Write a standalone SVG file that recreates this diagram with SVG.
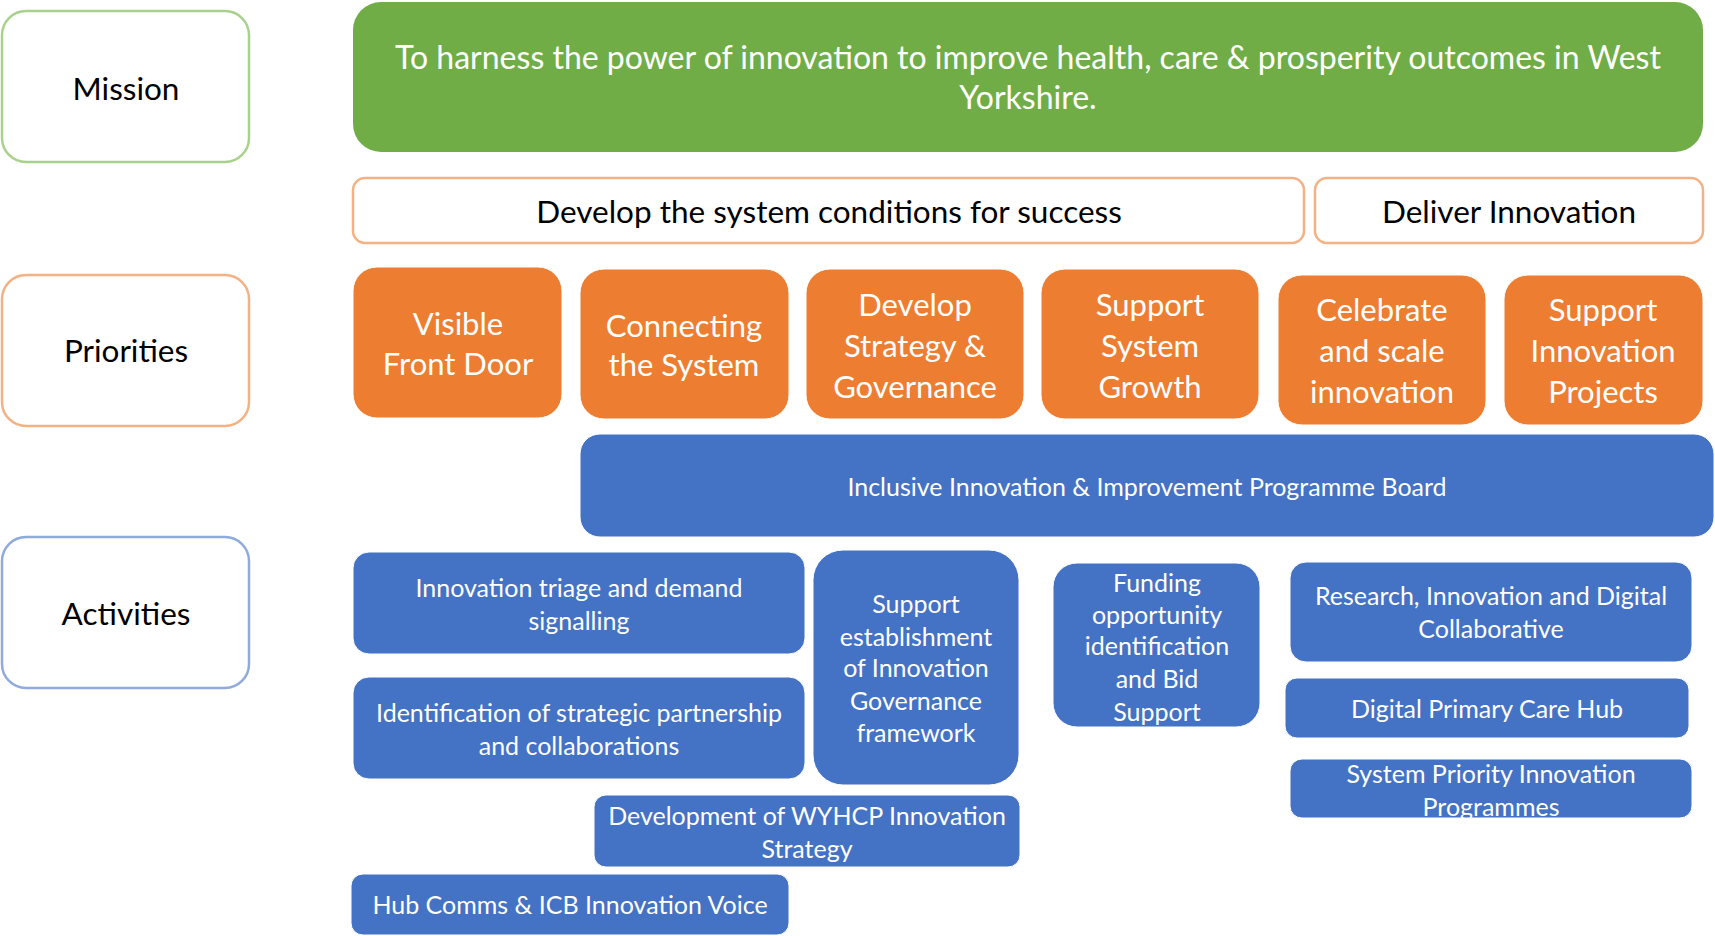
<svg xmlns="http://www.w3.org/2000/svg" width="1715" height="936" viewBox="0 0 1715 936">
<style>
text{font-family:Lato,"Open Sans","Liberation Sans",sans-serif;text-anchor:middle}
.lab rect{fill:#fff;stroke-width:2.5}
.lab text{fill:#000;font-size:31.5px}
.mis rect{fill:#70AD47}
.mis text{fill:#fff;font-size:32px}
.ph rect{fill:#fff;stroke:#F4B183;stroke-width:2.5}
.ph text{fill:#000;font-size:31.5px}
.pr rect{fill:#ED7D31;stroke:#fff;stroke-width:1}
.pr text{fill:#fff;font-size:31px}
.ac rect{fill:#4472C4;stroke:#fff;stroke-width:1}
.ac text{fill:#fff;font-size:25px}
</style>
<rect width="1715" height="936" fill="#fff"/>
<g id="label-mission" class="lab"><rect x="2" y="11" width="247" height="151" rx="24" stroke="#A9D18E"/><text x="126" y="100">Mission</text></g>
<g id="label-priorities" class="lab"><rect x="2" y="275" width="247" height="151" rx="24" stroke="#F4B183"/><text x="126" y="362">Priorities</text></g>
<g id="label-activities" class="lab"><rect x="2" y="537" width="247" height="151" rx="24" stroke="#8FAADC"/><text x="126" y="625">Activities</text></g>

<g id="mission" class="mis"><rect x="353" y="2" width="1350" height="150" rx="28"/>
<text x="1028" y="69">To harness the power of innovation to improve health, care &amp; prosperity outcomes in West</text>
<text x="1028" y="109">Yorkshire.</text></g>

<g id="phase-develop" class="ph"><rect x="353" y="178" width="951" height="65" rx="12"/><text x="829" y="223">Develop the system conditions for success</text></g>
<g id="phase-deliver" class="ph"><rect x="1315" y="178" width="388" height="65" rx="12"/><text x="1509" y="223">Deliver Innovation</text></g>

<g id="p1" class="pr"><rect x="353" y="267" width="209" height="151" rx="24"/><text x="458" y="335">Visible</text><text x="458" y="375">Front Door</text></g>
<g id="p2" class="pr"><rect x="580" y="269" width="209" height="150" rx="24"/><text x="684" y="337">Connecting</text><text x="684" y="376">the System</text></g>
<g id="p3" class="pr"><rect x="806" y="269" width="218" height="150" rx="24"/><text x="915" y="316">Develop</text><text x="915" y="357">Strategy &amp;</text><text x="915" y="398">Governance</text></g>
<g id="p4" class="pr"><rect x="1041" y="269" width="218" height="150" rx="24"/><text x="1150" y="316">Support</text><text x="1150" y="357">System</text><text x="1150" y="398">Growth</text></g>
<g id="p5" class="pr"><rect x="1278" y="275" width="208" height="150" rx="24"/><text x="1382" y="321">Celebrate</text><text x="1382" y="362">and scale</text><text x="1382" y="403">innovation</text></g>
<g id="p6" class="pr"><rect x="1504" y="275" width="199" height="150" rx="24"/><text x="1603" y="321">Support</text><text x="1603" y="362">Innovation</text><text x="1603" y="403">Projects</text></g>

<g id="board" class="ac"><rect x="580" y="434" width="1134" height="103" rx="20"/><text x="1147" y="496">Inclusive Innovation &amp; Improvement Programme Board</text></g>

<g id="a-triage" class="ac"><rect x="353" y="552" width="452" height="102" rx="16"/><text x="579" y="597">Innovation triage and demand</text><text x="579" y="630">signalling</text></g>
<g id="a-partnership" class="ac"><rect x="353" y="677" width="452" height="102" rx="16"/><text x="579" y="722">Identification of strategic partnership</text><text x="579" y="755">and collaborations</text></g>
<g id="a-governance" class="ac"><rect x="813" y="550" width="206" height="235" rx="30"/><text x="916" y="613">Support</text><text x="916" y="646">establishment</text><text x="916" y="677">of Innovation</text><text x="916" y="710">Governance</text><text x="916" y="742">framework</text></g>
<g id="a-funding" class="ac"><rect x="1053" y="563" width="207" height="164" rx="24"/><text x="1157" y="592">Funding</text><text x="1157" y="624">opportunity</text><text x="1157" y="655">identification</text><text x="1157" y="688">and Bid</text><text x="1157" y="721">Support</text></g>
<g id="a-research" class="ac"><rect x="1290" y="562" width="402" height="100" rx="16"/><text x="1491" y="605">Research, Innovation and Digital</text><text x="1491" y="638">Collaborative</text></g>
<g id="a-primary" class="ac"><rect x="1285" y="678" width="404" height="60" rx="12"/><text x="1487" y="718">Digital Primary Care Hub</text></g>
<g id="a-system" class="ac"><rect x="1290" y="759" width="402" height="59" rx="12"/><text x="1491" y="783">System Priority Innovation</text><text x="1491" y="816">Programmes</text></g>
<g id="a-strategy" class="ac"><rect x="594" y="795" width="426" height="72" rx="12"/><text x="807" y="825">Development of WYHCP Innovation</text><text x="807" y="858">Strategy</text></g>
<g id="a-comms" class="ac"><rect x="351" y="874" width="438" height="61" rx="12"/><text x="570" y="914">Hub Comms &amp; ICB Innovation Voice</text></g>

<g id="connectors"></g>
</svg>
